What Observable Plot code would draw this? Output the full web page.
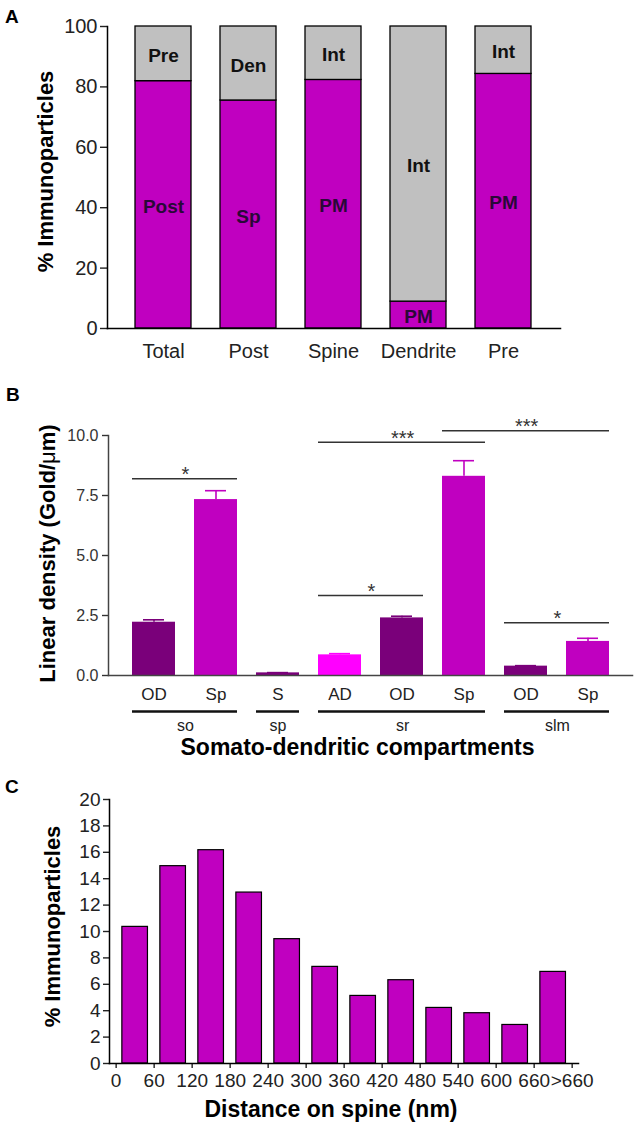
<!DOCTYPE html>
<html>
<head>
<meta charset="utf-8">
<script src="https://cdn.jsdelivr.net/npm/d3@7"></script>
<script src="https://cdn.jsdelivr.net/npm/@observablehq/plot@0.6"></script>
<style>
  html, body { margin: 0; padding: 0; background: #fff; }
  #root { position: relative; width: 638px; height: 1127px; overflow: hidden;
          font-family: "Liberation Sans", Arial, Helvetica, sans-serif; }
  .letter { position: absolute; font-weight: bold; font-size: 19px; line-height: 1; color: #000; }
</style>
</head>
<body>
<div id="root"></div>
<script>
// ---------------- Panel A data ----------------
const aCategories = ["Total", "Post", "Spine", "Dendrite", "Pre"];
const aLower = [81.9, 75.5, 82.3, 8.9, 84.3];          // magenta (lower) segment, %
const aLowerLabels = ["Post", "Sp", "PM", "PM", "PM"];
const aUpperLabels = ["Pre", "Den", "Int", "Int", "Int"];
const aTicks = [0, 20, 40, 60, 80, 100];

// ---------------- Panel B data ----------------
const bRegions = ["so", "so", "sp", "sr", "sr", "sr", "slm", "slm"];
const bTypes = ["OD", "Sp", "S", "AD", "OD", "Sp", "OD", "Sp"];
const bMeans = [2.22, 7.33, 0.11, 0.86, 2.40, 8.30, 0.39, 1.42];
const bErrors = [0.10, 0.37, 0.01, 0.05, 0.07, 0.65, 0.02, 0.13];
const bTicks = [0, 2.5, 5, 7.5, 10];
const bCmpFrom = [0, 3, 3, 5, 6];
const bCmpTo = [1, 4, 5, 7, 7];
const bCmpStars = ["*", "*", "***", "***", "*"];
const bCmpY = [8.2, 3.33, 9.72, 10.2, 2.2];

// ---------------- Panel C data ----------------
const cEdges = [0, 60, 120, 180, 240, 300, 360, 420, 480, 540, 600, 660, 720];
const cEdgeLabels = ["0", "60", "120", "180", "240", "300", "360", "420", "480", "540", "600", "660", ">660"];
const cValues = [10.35, 14.95, 16.16, 12.95, 9.42, 7.32, 5.12, 6.31, 4.21, 3.81, 2.92, 6.94];
const cTicks = [0, 2, 4, 6, 8, 10, 12, 14, 16, 18, 20];

// ---------------- styling ----------------
const W = 638;
const FONT = '"Liberation Sans", Arial, Helvetica, sans-serif';
const MAGENTA = "#C000C0", DARK = "#7A007A", BRIGHT = "#FF00FF", GRAY = "#C0C0C0";
const root = document.getElementById("root");
function place(node, top) {
  node.style.position = "absolute";
  node.style.left = "0px";
  node.style.top = top + "px";
  root.appendChild(node);
}
function letter(t, left, top) {
  const d = document.createElement("div");
  d.className = "letter"; d.textContent = t;
  d.style.left = left + "px"; d.style.top = top + "px";
  root.appendChild(d);
}

// ================= Panel A =================
const aRows = aCategories.flatMap((c, i) => [
  {cat: c, seg: "lower", value: aLower[i], label: aLowerLabels[i]},
  {cat: c, seg: "upper", value: 100 - aLower[i], label: aUpperLabels[i]}
]);
const plotA = Plot.plot({
  width: W, height: 370,
  marginLeft: 107, marginRight: 78, marginTop: 26, marginBottom: 42,
  style: {fontFamily: FONT, background: "transparent", overflow: "visible"},
  x: {domain: aCategories, paddingInner: 0.341, paddingOuter: 0.335, label: null},
  y: {domain: [0, 100], label: null},
  marks: [
    Plot.barY(aRows, {x: "cat", y: "value", fill: d => d.seg === "lower" ? MAGENTA : GRAY,
      stroke: "#000", strokeWidth: 1.3}),
    Plot.text(aRows, Plot.stackY({x: "cat", y: "value", text: "label",
      fill: d => d.seg === "lower" ? "#2a0838" : "#111",
      fontSize: 19, fontWeight: "bold", dy: 2})),
    Plot.axisY({ticks: aTicks, tickSize: 7, tickPadding: 3, fontSize: 20, color: "#222",
      strokeWidth: 1.4, label: null}),
    Plot.axisX({tickSize: 0, tickPadding: 15, fontSize: 20, color: "#222", label: null}),
    Plot.frame({anchor: "left", stroke: "#000", strokeWidth: 1.5}),
    Plot.frame({anchor: "bottom", stroke: "#000", strokeWidth: 1.5}),
    Plot.text(["% Immunoparticles"], {frameAnchor: "left", textAnchor: "middle", rotate: -90, dx: -62, dy: -6,
      fontSize: 22, fontWeight: "bold", fill: "#000"})
  ]
});
place(plotA, 0);

// ================= Panel B =================
const bIds = bTypes.map((t, i) => bRegions[i] + "-" + t + "-" + i);
const bRows = bIds.map((id, i) => ({id, type: bTypes[i], mean: bMeans[i], err: bErrors[i]}));
const bColor = {OD: DARK, Sp: MAGENTA, S: DARK, AD: BRIGHT};
const bPadIn = 0.314, bPadOut = 0.335, bML = 108, bMR = 6;
const bStep = (W - bML - bMR) / (bIds.length - bPadIn + 2 * bPadOut);
const bGroupNames = [...new Set(bRegions)];
const bGroups = bGroupNames.map(g => ({
  name: g,
  first: bRegions.indexOf(g),
  last: bRegions.lastIndexOf(g)
}));
const bCmps = bCmpFrom.map((f, i) => ({from: f, to: bCmpTo[i], stars: bCmpStars[i], y: bCmpY[i]}));

const plotB = Plot.plot({
  width: W, height: 395,
  marginLeft: bML, marginRight: bMR, marginTop: 65, marginBottom: 90,
  style: {fontFamily: FONT, background: "transparent", overflow: "visible"},
  x: {domain: bIds, paddingInner: bPadIn, paddingOuter: bPadOut, label: null},
  y: {domain: [0, 10], label: null},
  marks: [
    Plot.barY(bRows, {x: "id", y: "mean", fill: d => bColor[d.type]}),
    Plot.ruleX(bRows, {x: "id", y1: "mean", y2: d => d.mean + d.err, stroke: d => bColor[d.type], strokeWidth: 1.6}),
    Plot.tickY(bRows, {x: "id", y: d => d.mean + d.err, stroke: d => bColor[d.type], strokeWidth: 1.6,
      insetLeft: 11, insetRight: 11}),
    Plot.ruleY(bCmps, {x1: d => bIds[d.from], x2: d => bIds[d.to], y: "y", stroke: "#333", strokeWidth: 1.5}),
    ...bCmps.map(c => Plot.text([c], {x: d => bIds[d.from], y: "y", text: "stars",
      dx: (c.to - c.from) * bStep / 2, dy: -4, fontSize: 20, fill: "#333"})),
    Plot.axisY({ticks: bTicks, tickFormat: d3.format(".1f"), tickSize: 6, tickPadding: 4,
      fontSize: 16, color: "#333", strokeWidth: 1.4, label: null}),
    Plot.axisX({tickFormat: id => bTypes[bIds.indexOf(id)], tickSize: 0, tickPadding: 12,
      fontSize: 17, color: "#222", label: null}),
    Plot.frame({anchor: "left", stroke: "#444", strokeWidth: 1.5}),
    Plot.frame({anchor: "bottom", stroke: "#444", strokeWidth: 1.5}),
    Plot.ruleY(bGroups, {x1: d => bIds[d.first], x2: d => bIds[d.last], y: () => 0, dy: 36,
      stroke: "#111", strokeWidth: 2.6}),
    ...bGroups.map(g => Plot.text([g], {x: d => bIds[d.first], y: () => 0, text: "name",
      dx: (g.last - g.first) * bStep / 2, dy: 44, lineAnchor: "top", fontSize: 16, fill: "#222"})),
    Plot.text(["Somato-dendritic compartments"], {frameAnchor: "bottom", dx: -13, dy: 63, lineAnchor: "top",
      fontSize: 23, fontWeight: "bold", fill: "#000"}),
    Plot.text(["Linear density (Gold/\u03BCm)"], {frameAnchor: "left", textAnchor: "middle", rotate: -90, dx: -61, dy: -2,
      fontSize: 22, fontWeight: "bold", fill: "#000"})
  ]
});
place(plotB, 370);
// render the micro sign in regular weight, as in the reference
plotB.querySelectorAll("text").forEach(t => {
  if (t.textContent === "Linear density (Gold/\u03BCm)") {
    t.textContent = "";
    const ns = "http://www.w3.org/2000/svg";
    const parts = [["Linear density (Gold/", null], ["\u03BC", "normal"], ["m)", null]];
    for (const [s, w] of parts) {
      const sp = document.createElementNS(ns, "tspan");
      sp.textContent = s;
      if (w) sp.setAttribute("font-weight", w);
      t.appendChild(sp);
    }
  }
});

// ================= Panel C =================
const cRows = cValues.map((v, i) => ({start: cEdges[i], end: cEdges[i + 1], value: v}));
const plotC = Plot.plot({
  width: W, height: 362,
  marginLeft: 109, marginRight: 60, marginTop: 34, marginBottom: 64,
  style: {fontFamily: FONT, background: "transparent", overflow: "visible"},
  x: {domain: [-10.5, 730], label: null},
  y: {domain: [0, 20], label: null},
  marks: [
    Plot.rectY(cRows, {x1: "start", x2: "end", y: "value", fill: MAGENTA, stroke: "#000",
      strokeWidth: 1.2, insetLeft: 6.2, insetRight: 6.2}),
    Plot.axisY({ticks: cTicks, tickSize: 6, tickPadding: 3, fontSize: 19, color: "#222",
      strokeWidth: 1.4, label: null}),
    Plot.axisX({ticks: cEdges, tickFormat: d => cEdgeLabels[cEdges.indexOf(d)], tickSize: 5,
      tickPadding: 5, fontSize: 19, color: "#222", strokeWidth: 1.4, label: null}),
    Plot.frame({anchor: "left", stroke: "#000", strokeWidth: 1.5}),
    Plot.frame({anchor: "bottom", stroke: "#000", strokeWidth: 1.5}),
    Plot.text(["Distance on spine (nm)"], {frameAnchor: "bottom", dx: -13, dy: 37, lineAnchor: "top",
      fontSize: 23, fontWeight: "bold", fill: "#000"}),
    Plot.text(["% Immunoparticles"], {frameAnchor: "left", textAnchor: "middle", rotate: -90, dx: -56.5, dy: -5,
      fontSize: 22, fontWeight: "bold", fill: "#000"})
  ]
});
place(plotC, 765);

letter("A", 5, 7);
letter("B", 6, 385);
letter("C", 5, 777);
</script>
</body>
</html>
